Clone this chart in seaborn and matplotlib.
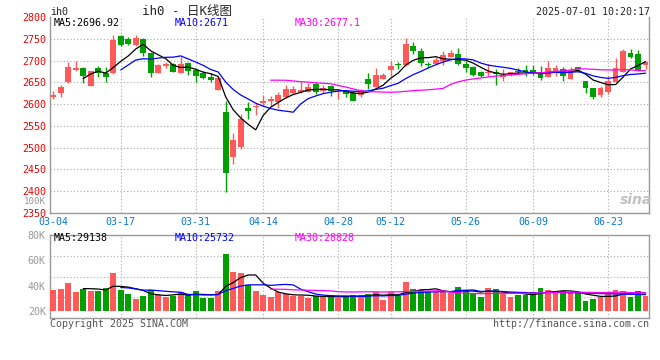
import numpy as np
import pandas as pd
import matplotlib
matplotlib.use("Agg")
import matplotlib.pyplot as plt
from matplotlib.ticker import LinearLocator
import seaborn as sns

# ih0 日K 数据 (从图上读出, 03-04 ~ 07-01)
opens = [2617.4, 2625.0, 2650.8, 2678.8, 2682.6, 2642.4, 2681.8, 2671.2, 2672.0, 2755.3,
         2748.5, 2734.8, 2748.5, 2716.7, 2672.0, 2687.9, 2691.7, 2672.0, 2694.7, 2677.3,
         2672.0, 2662.9, 2633.3, 2582.6, 2478.8, 2501.5, 2591.7, 2592.4, 2601.5, 2606.0,
         2605.3, 2615.2, 2625.8, 2628.0, 2627.3, 2646.2, 2629.5, 2640.9, 2629.5, 2629.5,
         2625.0, 2621.2, 2657.6, 2640.2, 2657.6, 2678.0, 2692.4, 2690.2, 2732.6, 2721.2,
         2692.4, 2691.7, 2698.5, 2707.6, 2714.4, 2693.2, 2685.6, 2674.2, 2672.0, 2674.2,
         2661.4, 2666.7, 2676.5, 2677.3, 2677.3, 2672.7, 2662.9, 2670.5, 2680.3, 2657.6,
         2684.1, 2652.3, 2637.1, 2622.0, 2628.0, 2651.5, 2674.2, 2716.7, 2714.4, 2690.2]
highs = [2629.5, 2644.0, 2696.2, 2699.2, 2684.8, 2676.5, 2687.1, 2685.6, 2757.6, 2759.8,
         2753.0, 2759.8, 2750.8, 2719.7, 2693.2, 2697.0, 2695.5, 2707.6, 2697.0, 2681.8,
         2676.5, 2671.2, 2662.9, 2607.6, 2532.6, 2578.0, 2604.5, 2603.0, 2621.2, 2618.2,
         2628.8, 2644.7, 2640.9, 2653.0, 2648.5, 2650.0, 2644.0, 2644.0, 2632.0, 2631.0,
         2631.0, 2634.8, 2671.2, 2681.8, 2671.2, 2698.5, 2697.0, 2752.3, 2743.2, 2728.0,
         2697.7, 2707.6, 2721.2, 2724.2, 2728.0, 2698.5, 2686.4, 2676.5, 2693.2, 2680.3,
         2680.3, 2674.2, 2681.8, 2689.4, 2689.4, 2686.4, 2698.5, 2689.4, 2684.1, 2684.1,
         2684.1, 2652.3, 2637.1, 2642.4, 2663.6, 2705.3, 2725.7, 2725.7, 2724.2, 2697.0]
lows = [2610.6, 2617.4, 2648.5, 2675.0, 2647.7, 2642.4, 2662.9, 2651.5, 2669.0, 2733.3,
        2734.8, 2733.3, 2710.6, 2662.9, 2672.0, 2681.8, 2672.7, 2672.0, 2667.4, 2651.5,
        2657.6, 2651.5, 2633.3, 2399.2, 2462.9, 2496.2, 2566.7, 2574.2, 2595.5, 2595.5,
        2591.7, 2612.9, 2623.5, 2626.5, 2627.3, 2622.7, 2626.5, 2619.7, 2610.6, 2617.4,
        2607.6, 2617.4, 2634.8, 2640.2, 2657.6, 2665.2, 2680.3, 2688.6, 2715.2, 2687.1,
        2682.6, 2691.7, 2689.4, 2707.6, 2689.4, 2674.2, 2665.2, 2662.9, 2665.2, 2644.7,
        2653.8, 2665.2, 2668.9, 2665.2, 2667.4, 2656.1, 2662.9, 2665.2, 2653.8, 2657.6,
        2674.2, 2625.8, 2612.1, 2617.4, 2622.7, 2651.5, 2674.2, 2706.8, 2676.5, 2680.3]
closes = [2622.0, 2638.6, 2684.8, 2682.6, 2665.2, 2675.0, 2670.5, 2662.9, 2746.2, 2735.6,
          2737.1, 2750.8, 2716.7, 2672.0, 2689.4, 2693.2, 2674.2, 2691.7, 2676.5, 2664.4,
          2660.6, 2656.1, 2659.1, 2442.4, 2516.7, 2566.7, 2583.3, 2595.5, 2607.6, 2611.4,
          2621.2, 2634.8, 2634.8, 2632.6, 2638.6, 2627.3, 2636.4, 2630.3, 2631.0, 2622.7,
          2607.6, 2630.3, 2646.2, 2666.7, 2666.7, 2687.1, 2689.4, 2737.1, 2722.0, 2695.5,
          2689.4, 2700.8, 2712.1, 2717.4, 2691.7, 2682.6, 2666.7, 2665.2, 2674.2, 2668.2,
          2667.4, 2674.2, 2673.5, 2673.5, 2672.7, 2660.6, 2682.6, 2682.6, 2665.2, 2678.8,
          2680.3, 2636.4, 2615.9, 2637.1, 2652.3, 2682.6, 2722.7, 2709.1, 2676.5, 2697.0]
volumes = [36600, 37400, 42100, 35000, 37400, 36100, 36100, 38200, 50000, 36600,
           33400, 29500, 31800, 36600, 32600, 30800, 31800, 35000, 32600, 35800,
           30300, 30300, 35800, 65000, 50800, 50000, 40500, 35800, 32600, 31100,
           35000, 33400, 31800, 31800, 30300, 31800, 31800, 31800, 30300, 31100,
           32600, 32600, 33400, 35000, 28700, 35000, 31800, 42900, 37400, 36600,
           35800, 35000, 35000, 33900, 38900, 36600, 34200, 31100, 38200, 37400,
           33400, 31100, 32400, 32600, 35000, 38200, 36600, 34200, 35800, 34200,
           35000, 27900, 29500, 31100, 34200, 36600, 35800, 31100, 35800, 31800]

date_ticks = [0, 9, 19, 28, 38, 45, 55, 64, 74]
date_labels = ['03-04', '03-17', '03-31', '04-14', '04-28', '05-12', '05-26', '06-09', '06-23']
price_ticks = list(range(2350, 2801, 50))
vol_ticks = [20000, 40000, 60000, 80000]
vol_labels = ['20K', '40K', '60K', '80K']

UP = '#ff5a5a'
DOWN = '#00a000'
GRID = '#aaaaaa'
SPINE = '#999999'
VOL_BASE = 20000
FS = 7.2

sns.set_style('white')
plt.rcParams['font.family'] = ['DejaVu Sans Mono', 'Noto Sans CJK SC']

df = pd.DataFrame({'open': opens, 'high': highs, 'low': lows,
                   'close': closes, 'vol': volumes})
df['idx'] = np.arange(len(df))
for n in (5, 10, 30):
    df[f'ma{n}'] = df['close'].rolling(n).mean()
    df[f'vma{n}'] = df['vol'].rolling(n).mean()
colors = np.where(df['close'] >= df['open'], UP, DOWN)

W, H = 660, 360
fig = plt.figure(figsize=(6.6, 3.6), dpi=100)


def px(x, y):
    return x / W, 1 - y / H


ax = fig.add_axes([50 / W, 1 - 213 / H, 599 / W, 196 / H])
vax = fig.add_axes([50 / W, 1 - 318 / H, 599 / W, 83 / H])

# K线
ax.vlines(df['idx'], df['low'], df['high'], colors=colors, lw=1, zorder=2)
body = (df['close'] - df['open']).abs().clip(lower=1.2)
ax.bar(df['idx'], body, bottom=df[['open', 'close']].min(axis=1),
       width=0.76, color=colors, lw=0, zorder=3)
for col, c in [('ma5', 'black'), ('ma10', '#0000ff'), ('ma30', '#ff00ff')]:
    sns.lineplot(data=df, x='idx', y=col, color=c, lw=0.9, ax=ax, zorder=4)

# 成交量
vax.bar(df['idx'], df['vol'] - VOL_BASE, bottom=VOL_BASE, width=0.76,
        color=colors, lw=0, zorder=3)
for col, c in [('vma5', 'black'), ('vma10', '#0000ff'), ('vma30', '#ff00ff')]:
    sns.lineplot(data=df, x='idx', y=col, color=c, lw=0.9, ax=vax, zorder=4)

for a in (ax, vax):
    a.set_xlim(-0.43, 79.45)
    a.set_xlabel('')
    a.set_ylabel('')
    a.set_xticks(date_ticks)
    a.grid(True, axis='x', color=GRID, ls=(0, (1, 2)), lw=0.8)
    a.get_xgridlines()[0].set_visible(False)
    for s in a.spines.values():
        s.set_color(SPINE)
        s.set_linewidth(1)
    a.tick_params(length=0)

ax.spines['top'].set_visible(False)
ax.set_ylim(2350, 2800)
ax.set_yticks(price_ticks)
ax.set_yticklabels([str(t) for t in price_ticks], color='#ee0000', fontsize=FS)
ax.grid(True, axis='y', color=GRID, ls=(0, (1, 2)), lw=0.8)
ax.get_ygridlines()[-1].set_visible(False)
ax.set_xticklabels(date_labels, color='#0a78d2', fontsize=FS)
ax.tick_params(axis='y', pad=3)
ax.tick_params(axis='x', pad=3)

vax.set_ylim(14474, 80000)
vax.set_yticks(vol_ticks)
vax.set_yticklabels(vol_labels, color=SPINE, fontsize=FS)
vax.yaxis.set_minor_locator(LinearLocator(5))
vax.grid(True, axis='y', which='minor', color=GRID, ls=(0, (1, 2)), lw=0.8)
vax.tick_params(axis='y', which='both', length=0, pad=3)
vax.set_xticklabels([])

# 文字
fig.text(*px(50, 12), 'ih0', fontsize=FS, va='center', ha='left')
fig.text(*px(142, 12), 'ih0 - 日K线图', fontsize=9, va='center', ha='left')
fig.text(*px(650, 12), '2025-07-01 10:20:17', fontsize=FS, va='center', ha='right')
fig.text(*px(54, 23), 'MA5:2696.92', fontsize=FS, va='center', color='black')
fig.text(*px(175, 23), 'MA10:2671', fontsize=FS, va='center', color='#0000ff')
fig.text(*px(295, 23), 'MA30:2677.1', fontsize=FS, va='center', color='#ff00ff')
fig.text(*px(54, 238), 'MA5:29138', fontsize=FS, va='center', color='black')
fig.text(*px(175, 238), 'MA10:25732', fontsize=FS, va='center', color='#0000ff')
fig.text(*px(295, 238), 'MA30:28828', fontsize=FS, va='center', color='#ff00ff')
fig.text(*px(46, 202), '100K', fontsize=6.6, va='center', ha='right', color=SPINE)
fig.text(*px(50, 324), 'Copyright 2025 SINA.COM', fontsize=FS, va='center', color='#555555')
fig.text(*px(649, 324), 'http://finance.sina.com.cn', fontsize=FS, va='center',
         ha='right', color='#555555')
fig.text(*px(636, 200), 'sina', fontsize=10, va='center', ha='center', color='#c0c0c0',
         style='italic', weight='bold', family='DejaVu Sans')

fig.savefig('out.png', dpi=100)
